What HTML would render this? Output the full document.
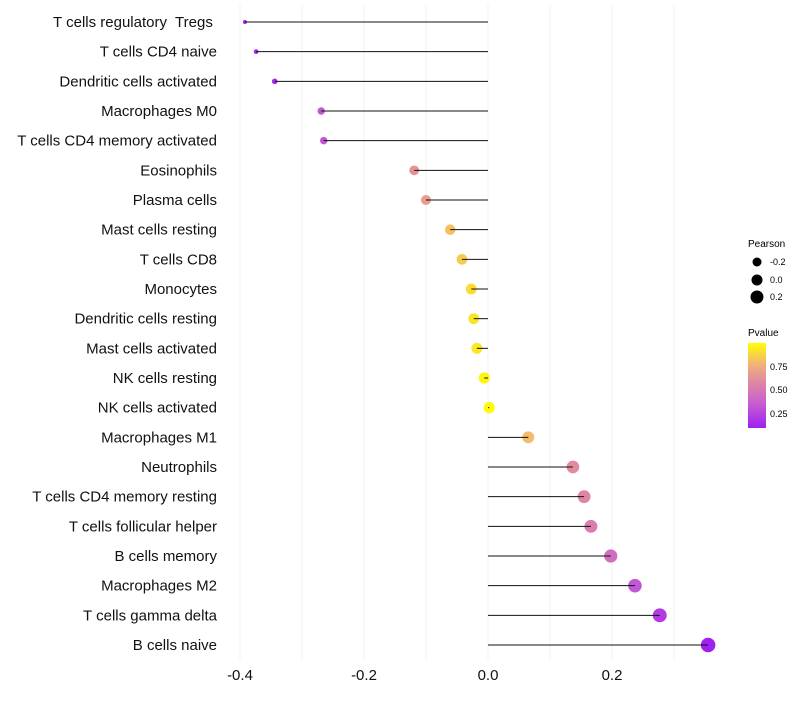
<!DOCTYPE html>
<html><head><meta charset="utf-8"><style>
body{margin:0;background:#fff;font-family:"Liberation Sans",sans-serif}
text{white-space:pre}
</style></head><body>
<svg id="c" width="800" height="700" xmlns="http://www.w3.org/2000/svg">
<defs><linearGradient id="pg" x1="0" y1="1" x2="0" y2="0">
<stop offset="0" stop-color="#a020f0"/><stop offset="0.3" stop-color="#c860d0"/><stop offset="0.55" stop-color="#e08aa0"/><stop offset="0.75" stop-color="#f2b278"/><stop offset="1" stop-color="#ffff00"/></linearGradient></defs>
<g id="grid"></g><g id="marks"></g><g id="stems"></g><g id="labels"></g><g id="xt"></g>
<g font-size="9" fill="#000">
<text x="748" y="247" font-size="10">Pearson</text>
<circle cx="757" cy="262" r="4.5"/><text x="770" y="265">-0.2</text>
<circle cx="757" cy="280" r="5.5"/><text x="770" y="283">0.0</text>
<circle cx="757" cy="297" r="6.5"/><text x="770" y="300">0.2</text>
</g>
<g font-size="9">
<text x="748" y="336" font-size="10">Pvalue</text>
<rect x="748" y="343" width="18" height="85" fill="url(#pg)"/>
<text x="770" y="370">0.75</text><text x="770" y="393">0.50</text><text x="770" y="417">0.25</text>
</g>
</svg>
<script>
const cells=["T cells regulatory  Tregs ","T cells CD4 naive","Dendritic cells activated","Macrophages M0","T cells CD4 memory activated","Eosinophils","Plasma cells","Mast cells resting","T cells CD8","Monocytes","Dendritic cells resting","Mast cells activated","NK cells resting","NK cells activated","Macrophages M1","Neutrophils","T cells CD4 memory resting","T cells follicular helper","B cells memory","Macrophages M2","T cells gamma delta","B cells naive"];
const pearson=[-0.392,-0.374,-0.344,-0.269,-0.265,-0.119,-0.1,-0.061,-0.042,-0.027,-0.023,-0.018,-0.006,0.002,0.065,0.137,0.155,0.166,0.198,0.237,0.277,0.355];
const pvalue=[0.1,0.12,0.15,0.33,0.33,0.63,0.68,0.82,0.85,0.9,0.92,0.93,0.97,0.99,0.8,0.6,0.57,0.53,0.45,0.33,0.22,0.1];
const ticks=[-0.4,-0.2,0.0,0.2];
const tickLabels=["-0.4","-0.2","0.0","0.2"];
const NS="http://www.w3.org/2000/svg";
const x=v=>488+620*v;
const y=i=>22+i*(623/21);
const r=v=>1+7.2*Math.sqrt(Math.max(0,v+0.41));
function hex(h){return[1,3,5].map(k=>parseInt(h.substr(k,2),16));}
const stops=[[0,"#a020f0"],[0.3,"#c860d0"],[0.55,"#e08aa0"],[0.75,"#f2b278"],[1,"#ffff00"]];
function col(p){let t=Math.max(0,Math.min(1,(p-0.1)/0.9));for(let k=1;k<stops.length;k++){if(t<=stops[k][0]){const a=hex(stops[k-1][1]),b=hex(stops[k][1]),f=(t-stops[k-1][0])/(stops[k][0]-stops[k-1][0]);return"rgb("+a.map((c,j)=>Math.round(c+(b[j]-c)*f)).join(",")+")";}}return stops[stops.length-1][1];}
function mk(t,a,p){const e=document.createElementNS(NS,t);for(const k in a)e.setAttribute(k,a[k]);p.appendChild(e);return e;}
const G=document.getElementById("grid"),M=document.getElementById("marks"),S=document.getElementById("stems"),L=document.getElementById("labels"),X=document.getElementById("xt");
for(let v=-0.4;v<=0.31;v+=0.1){const l=mk("line",{x1:x(v),x2:x(v),y1:5,y2:660,stroke:"#f0f0f0","stroke-width":1},G);

}
cells.forEach((c,i)=>{
const d=mk("circle",{cx:x(pearson[i]),cy:y(i),r:r(pearson[i]),fill:col(pvalue[i])},M);


const s=mk("line",{x1:x(0),x2:x(pearson[i]),y1:y(i),y2:y(i),stroke:"#111","stroke-width":1},S);


const t=mk("text",{x:217,y:y(i)+5,"text-anchor":"end","font-size":15,fill:"#111"},L);t.textContent=c;


});
ticks.forEach((v,i)=>{const t=mk("text",{x:x(v),y:680,"text-anchor":"middle","font-size":15,fill:"#111"},X);t.textContent=tickLabels[i];

});
</script>
</body></html>
